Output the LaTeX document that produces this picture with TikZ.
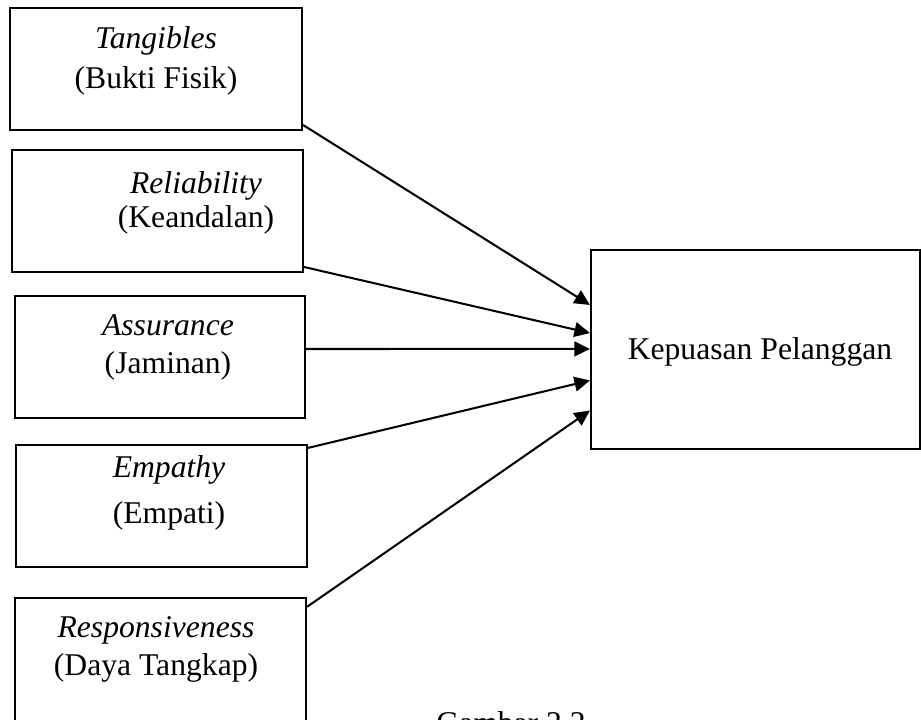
\documentclass[tikz,border=0pt]{standalone}
\usepackage{fontspec}
\setmainfont{Liberation Serif}
\usetikzlibrary{arrows.meta}

\tikzset{
  dimbox/.style={draw, line width=1.45pt, rectangle, inner sep=0pt, minimum height=3.05cm},
  dimtext/.style={align=center, font=\fontsize{22.5}{27}\selectfont},
  link/.style={-{Triangle[length=11pt,width=10.5pt]}, line width=1.45pt}
}

\begin{document}
\begin{tikzpicture}[x=0.025cm,y=-0.025cm]

\useasboundingbox (0,0) rectangle (921,719);
\clip (0,0) rectangle (921,719);

%% left boxes (dimensions)
\node [dimbox, minimum width=7.3cm]   (tang) at (156,69) {};
\node [dimbox, minimum width=7.275cm] (reli) at (157.5,211) {};
\node [dimbox, minimum width=7.25cm]  (assu) at (160,357) {};
\node [dimbox, minimum width=7.275cm] (empa) at (161.5,506) {};
\node [dimbox, minimum width=7.275cm, minimum height=3.55cm] (resp) at (160.5,669) {};
% labels
\node [dimtext, font=\fontsize{22.5}{28.5}\selectfont] (tangtxt) at (156,61) {\textit{Tangibles}\\(Bukti Fisik)};
\node [dimtext, font=\fontsize{22.5}{24.5}\selectfont] (relitxt) at (196,203) {\textit{Reliability}\\(Keandalan)};
\node [dimtext] (assutxt) at (168,347) {\textit{Assurance}\\(Jaminan)};
\node [dimtext, font=\fontsize{22.5}{32.5}\selectfont] (empatxt) at (169,493) {\textit{Empathy}\\(Empati)};
\node [dimtext] (resptxt) at (156,649) {\textit{Responsiveness}\\(Daya Tangkap)};

%% right box
\node [dimbox, minimum width=8.225cm, minimum height=4.975cm] (kepu) at (755.5,349.5) {};
\node [dimtext] (keputxt) at (760,352) {Kepuasan Pelanggan};

%% arrows
\draw [link] ([yshift=4.3pt]tang.south east) -- ([yshift=31.7pt]kepu.west);
\draw [link] ([yshift=4.3pt]reli.south east) -- ([yshift=11.7pt]kepu.west);
\draw [link] ([yshift=5.7pt]assu.east) -- ([yshift=0.4pt]kepu.west);
\draw [link] ([yshift=-2.8pt]empa.north east) -- ([yshift=-22pt]kepu.west);
\draw [link] ([yshift=-7pt]resp.north east) -- ([yshift=-43.4pt]kepu.west);

%% caption
\node [dimtext, anchor=base] (capt) at (511,733) {Gambar 2.2};

\end{tikzpicture}
\end{document}
